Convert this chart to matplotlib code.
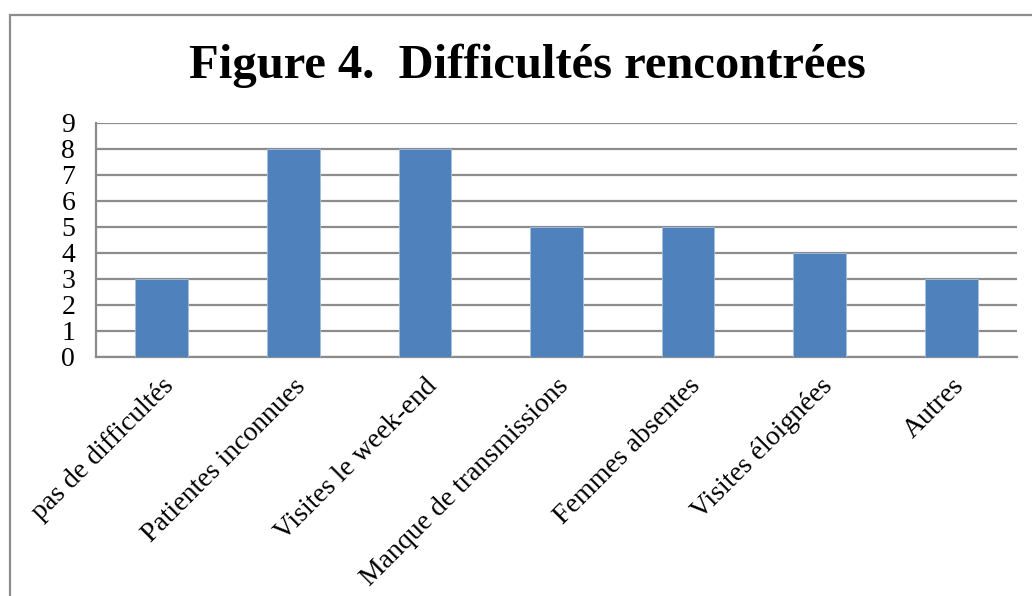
import matplotlib.pyplot as plt
from matplotlib.patches import Rectangle

categories = ["pas de difficultés", "Patientes inconnues", "Visites le week-end",
              "Manque de transmissions", "Femmes absentes", "Visites éloignées", "Autres"]
values = [3, 8, 8, 5, 5, 4, 3]
yticks = list(range(0, 10))

plt.rcParams['font.family'] = ['Liberation Serif', 'DejaVu Serif']

W, H = 1032, 596
fig = plt.figure(figsize=(W / 100, H / 100), dpi=100)
ax = fig.add_axes([96 / W, 1 - 357 / H, (1017 - 96) / W, (357 - 123) / H])

# outer chart frame (cut off at right and bottom)
fig.patches.append(Rectangle((10 / W, -0.1), 1.2, 1 - 15 / H + 0.1, transform=fig.transFigure,
                             fill=False, edgecolor='#8c8c8c', linewidth=1.6))

x = range(len(categories))
ax.bar(x, values, width=0.4, color='#4f81bd', edgecolor='#a7bfde', linewidth=0.6, zorder=3)

ax.set_xlim(-0.5, len(categories) - 0.5)
ax.set_ylim(0, 9)
ax.set_yticks(yticks)
ax.set_yticklabels([str(t) for t in yticks], fontsize=20)
ax.yaxis.grid(True, color='#8c8c8c', linewidth=1.6, zorder=0)
ax.set_xticks(list(x))
ax.set_xticklabels(categories, rotation=45, ha='right', rotation_mode='anchor', fontsize=20)
ax.tick_params(axis='both', length=0)
ax.tick_params(axis='y', pad=15)
ax.tick_params(axis='x', pad=12)
for side in ['top', 'right']:
    ax.spines[side].set_visible(False)
ax.spines['left'].set_color('#8c8c8c')
ax.spines['left'].set_linewidth(1.6)
ax.spines['bottom'].set_color('#8c8c8c')
ax.spines['bottom'].set_linewidth(1.6)

fig.text(527 / W, 1 - 66 / H, "Figure 4.  Difficultés rencontrées", ha='center', va='center',
         fontsize=35, fontweight='bold')

fig.savefig("out.png", dpi=100)
